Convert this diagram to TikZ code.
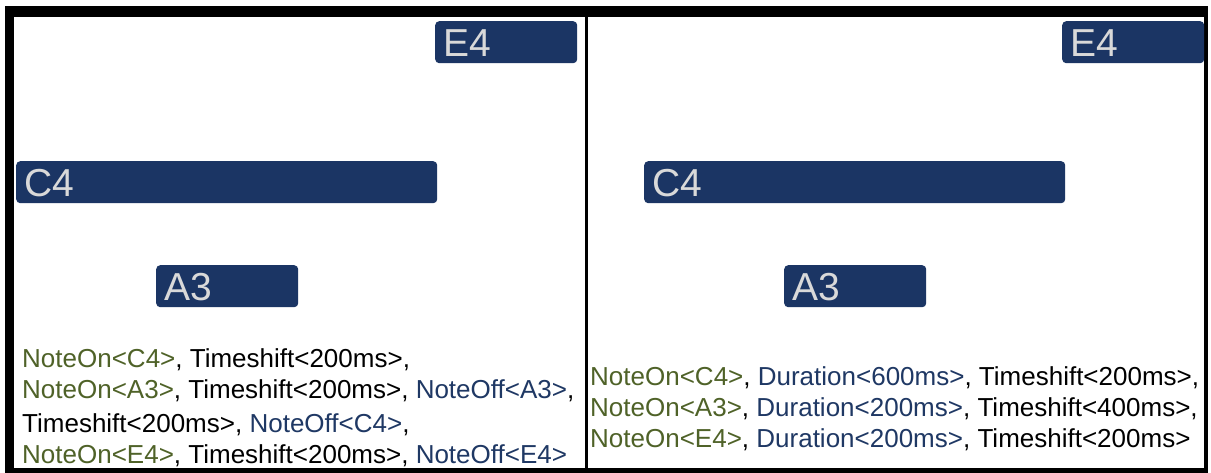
\documentclass[tikz,border=0pt]{standalone}
\usepackage{fontspec}
\setmainfont{Liberation Sans}
\definecolor{barblue}{RGB}{27,53,100}
\definecolor{bartext}{RGB}{217,217,217}
\definecolor{ongreen}{RGB}{79,98,40}
\definecolor{offblue}{RGB}{31,56,100}
\newcommand{\noteon}[1]{\textcolor{ongreen}{NoteOn<#1>}}
\newcommand{\noteoff}[1]{\textcolor{offblue}{NoteOff<#1>}}
\newcommand{\dur}[1]{\textcolor{offblue}{Duration<#1>}}
\newcommand{\tshift}[1]{Timeshift<#1>}

\begin{document}
\begin{tikzpicture}[x=1pt,y=-1pt,
  notebar/.style={fill=barblue,text=bartext,rounded corners=4pt,anchor=north west,
    inner sep=0pt,inner xsep=8pt,minimum height=42pt,align=left,
    text height=28pt,text depth=0pt,font=\fontsize{39}{39}\selectfont},
  tokens/.style={anchor=base west,inner sep=0pt,font=\fontsize{26}{26}\selectfont}]
  \useasboundingbox (0,0) rectangle (1211,473);
  % frame
  \fill (5,6) rectangle (1208,473);
  \fill[white] (14,17) rectangle (585,468);
  \fill[white] (588,17) rectangle (1204,468);
  % left: note on / note off
  \node[notebar,text width=126pt] (e4l) at (435,21) {E4};
  \node[notebar,text width=405pt] (c4l) at (16,161) {C4};
  \node[notebar,text width=126pt] (a3l) at (156,265) {A3};
  \node[tokens] (l1) at (22,367) {\noteon{C4}, \tshift{200ms},};
  \node[tokens] (l2) at (22,398) {\noteon{A3}, \tshift{200ms}, \noteoff{A3},};
  \node[tokens] (l3) at (22,432) {\tshift{200ms}, \noteoff{C4},};
  \node[tokens] (l4) at (22,463) {\noteon{E4}, \tshift{200ms}, \noteoff{E4}};
  % right: note on with duration
  \node[notebar,text width=126pt] (e4r) at (1062,21) {E4};
  \node[notebar,text width=405pt] (c4r) at (644,161) {C4};
  \node[notebar,text width=126pt] (a3r) at (784,265) {A3};
  \node[tokens] (r1) at (590,385) {\noteon{C4}, \dur{600ms}, \tshift{200ms},};
  \node[tokens] (r2) at (590,416) {\noteon{A3}, \dur{200ms}, \tshift{400ms},};
  \node[tokens] (r3) at (590,447) {\noteon{E4}, \dur{200ms}, \tshift{200ms}};
\end{tikzpicture}
\end{document}
